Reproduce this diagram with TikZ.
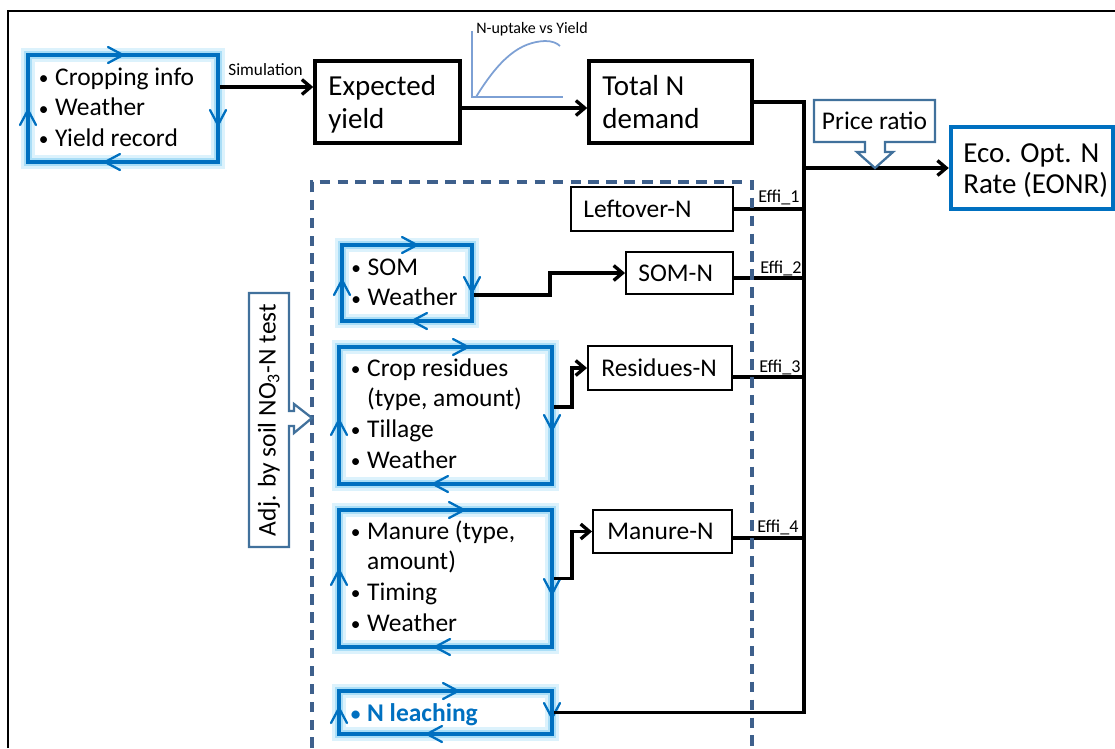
\documentclass[tikz,border=0pt]{standalone}
\usepackage{fontspec}
\setmainfont{Carlito}
\usetikzlibrary{arrows.meta,fit}
\definecolor{bluec}{RGB}{0,112,192}
\definecolor{glowA}{RGB}{220,242,252}
\definecolor{glowB}{RGB}{170,222,247}
\definecolor{dashc}{RGB}{62,96,140}
\definecolor{callc}{RGB}{65,113,156}
\definecolor{graphc}{RGB}{125,160,212}
\tikzset{
  bk/.style={draw=black, line width=2pt, inner sep=0pt},
  bkthin/.style={draw=black, line width=1.1pt, inner sep=0pt},
  bbox/.style={draw=bluec, line width=2.2pt, inner sep=0pt},
  chev/.style={draw=bluec, line width=1.3pt, line cap=round},
  conn/.style={draw=black, line width=1.9pt},
  arr/.style={conn, -{Straight Barb[length=5pt,width=8.5pt]}},
  dashbox/.style={draw=dashc, line width=2pt, dash pattern=on 6pt off 4.2pt},
  callout/.style={draw=callc, line width=1.3pt, fill=white, line join=miter},
  txt/.style={inner sep=0pt, font=\fontsize{14.5}{17.5}\selectfont},
  bigt/.style={inner sep=0pt, font=\fontsize{16.5}{18.8}\selectfont},
  eont/.style={inner sep=0pt, font=\fontsize{16.5}{18}\selectfont},
  small/.style={inner sep=0pt, font=\fontsize{9.8}{11}\selectfont},
  effl/.style={inner sep=0pt, font=\fontsize{10.3}{12}\selectfont},
}
\newcommand\bl{\makebox[9.3pt][l]{\raisebox{0.4pt}{\fontsize{11}{11}\selectfont\textbullet}}}
\newcommand\ind{\hspace*{9.3pt}}
\newcommand\glowrect[4]{%
  \draw[glowA, line width=8.5pt] (#1,#2) rectangle (#3,#4);
  \draw[glowB, line width=5pt] (#1,#2) rectangle (#3,#4);}
\newcommand\cvR[2]{\draw[chev] (#1-15,#2-8) -- (#1,#2) -- (#1-15,#2+8);}
\newcommand\cvL[2]{\draw[chev] (#1+15,#2-8) -- (#1,#2) -- (#1+15,#2+8);}
\newcommand\cvD[2]{\draw[chev] (#1-8,#2-15) -- (#1,#2) -- (#1+8,#2-15);}
\newcommand\cvU[2]{\draw[chev] (#1-8,#2+15) -- (#1,#2) -- (#1+8,#2+15);}
\begin{document}
\begin{tikzpicture}[x=0.2mm,y=-0.2mm]
\useasboundingbox (0,0) rectangle (1115,748);
% outer frame
\draw[line width=1.4pt] (8,748) -- (8,11) -- (1115,11);

% small graph
\draw[graphc, line width=1pt] (472,31) -- (472,97) -- (563,97);
\draw[graphc, line width=1pt] (476,97) .. controls (500,58) and (520,42) .. (545,41) .. controls (552,41) and (557,43) .. (560,46);
\node[anchor=base west, inner sep=0pt, font=\fontsize{9.1}{11}\selectfont] (glab) at (476,33) {N-uptake vs Yield};

% cropping box
\glowrect{28}{55}{218}{162}
\node[bbox, fit={(28,55)(218,162)}] (cb) {};
\cvR{123}{55}\cvD{218}{125}\cvL{105}{162}\cvU{28}{110}
\node[txt, anchor=base west] (cbt) at (38.5,85) {\begin{tabular}[t]{@{}l@{}}\bl Cropping info\\ \bl Weather\\ \bl Yield record\end{tabular}};

% expected yield and total N
\node[bk, fit={(315,61)(460,143)}] (ey) {};
\node[bigt, anchor=base west] (eyt) at (328,95) {\begin{tabular}[t]{@{}l@{}}Expected\\ yield\end{tabular}};
\node[bk, fit={(589,61)(752,143)}] (tn) {};
\node[bigt, anchor=base west] (tnt) at (602,95) {\begin{tabular}[t]{@{}l@{}}Total N\\ demand\end{tabular}};

\coordinate (s1) at ([yshift=4.3mm]cb.east);
\draw[arr] (s1) -- (s1 -| ey.west);
\node[small, anchor=base west] (simt) at (228,75) {Simulation};
\coordinate (s2) at ([yshift=-1.2mm]ey.east);
\draw[arr] (s2) -- (s2 -| tn.west);

% EONR
\node[draw=bluec, line width=2.5pt, inner sep=0pt, fit={(951,127)(1113,209)}] (eo) {};
\node[eont, anchor=base west] (eot) at (963,162) {\begin{tabular}[t]{@{}l@{}}Eco. Opt. N\\ Rate (EONR)\end{tabular}};

% N leaching box (needed for bus)
\glowrect{339}{691}{552}{734}
\node[bbox, fit={(339,691)(552,734)}] (nl) {};
\cvR{458}{691}\cvD{552}{718}\cvL{427}{734}\cvU{339}{708}
\node[txt, anchor=base west, text=bluec, font=\fontsize{14.5}{17.5}\selectfont\bfseries] (nlt) at (350.5,721) {\bl N leaching};

% bus
\coordinate (busx) at (804,0);
\draw[conn] (tn.east) -| (busx |- nl.east) -- (nl.east);
\draw[arr] (busx |- eo.west) -- (eo.west);

% price ratio callout
\draw[callout] (814,100) -- (935,100) -- (935,142) -- (885,142) -- (885,152) -- (893,152) -- (875,168) -- (857,152) -- (865,152) -- (865,142) -- (814,142) -- cycle;
\node[txt] (pr) at (874.5,121) {Price ratio};

% leftover-N
\node[bkthin, fit={(571,187)(733,231)}] (lo) {};
\node[txt, anchor=west] (lot) at (583,209) {Leftover-N};
\draw[conn] (lo.east) -- (lo.east -| busx);
\node[effl, anchor=base west] (ef1) at (758,202) {Effi\_1};

% SOM box
\glowrect{342}{245}{472}{321}
\node[bbox, fit={(342,245)(472,321)}] (sb) {};
\cvR{417}{245}\cvD{472}{292}\cvL{412}{321}\cvU{342}{280}
\node[txt, anchor=base west] (sbt) at (351,275) {\begin{tabular}[t]{@{}l@{}}\bl SOM\\ \bl Weather\end{tabular}};
\node[bkthin, fit={(626,252)(733,294)}] (somn) {};
\node[txt, anchor=west] (somnt) at (638,273) {SOM-N};
\coordinate (k1) at (550,0);
\coordinate (s3) at ([yshift=-2.4mm]sb.east);
\draw[arr] (s3) -- (s3 -| k1) |- (somn.west);
\coordinate (e2) at ([yshift=-1mm]somn.east);
\draw[conn] (e2) -- (e2 -| busx);
\node[effl, anchor=base west] (ef2) at (760,273) {Effi\_2};

% residues box
\glowrect{339}{347}{552}{484}
\node[bbox, fit={(339,347)(552,484)}] (rb) {};
\cvR{468}{347}\cvD{552}{430}\cvL{433}{484}\cvU{339}{420}
\node[txt, anchor=base west] (rbt) at (350.5,376) {\begin{tabular}[t]{@{}l@{}}\bl Crop residues\\ \ind (type, amount)\\ \bl Tillage\\ \bl Weather\end{tabular}};
\node[bkthin, fit={(588,346)(732,390)}] (resn) {};
\node[txt, anchor=west] (resnt) at (601,368) {Residues-N};
\coordinate (k2) at (572,0);
\coordinate (s4) at ([yshift=1.7mm]rb.east);
\draw[arr] (s4) -- (s4 -| k2) |- (resn.west);
\coordinate (e3) at ([yshift=-1.8mm]resn.east);
\draw[conn] (e3) -- (e3 -| busx);
\node[effl, anchor=base west] (ef3) at (759,372) {Effi\_3};

% manure box
\glowrect{339}{510}{552}{647}
\node[bbox, fit={(339,510)(552,647)}] (mb) {};
\cvR{464}{510}\cvD{552}{594}\cvL{435}{647}\cvU{339}{570}
\node[txt, anchor=base west] (mbt) at (350.5,539) {\begin{tabular}[t]{@{}l@{}}\bl Manure (type,\\ \ind amount)\\ \bl Timing\\ \bl Weather\end{tabular}};
\node[bkthin, fit={(593,510)(732,553)}] (mann) {};
\node[txt, anchor=west] (mannt) at (607,531.5) {Manure-N};
\draw[arr] (mb.east) -- (mb.east -| k2) |- (mann.west);
\coordinate (e4) at ([yshift=-1.3mm]mann.east);
\draw[conn] (e4) -- (e4 -| busx);
\node[effl, anchor=base west] (ef4) at (757,532) {Effi\_4};

% dashed region
\draw[dashbox] (312,748) -- (312,182) -- (752,182) -- (752,748);

% adj callout
\draw[callout] (249,293) -- (289,293) -- (289,411) -- (294,411) -- (294,404) -- (312,418) -- (294,433) -- (294,426) -- (289,426) -- (289,547) -- (249,547) -- cycle;
\node[txt, rotate=90] (adj) at (269,420) {Adj. by soil NO\textsubscript{3}-N test};
\end{tikzpicture}
\end{document}
